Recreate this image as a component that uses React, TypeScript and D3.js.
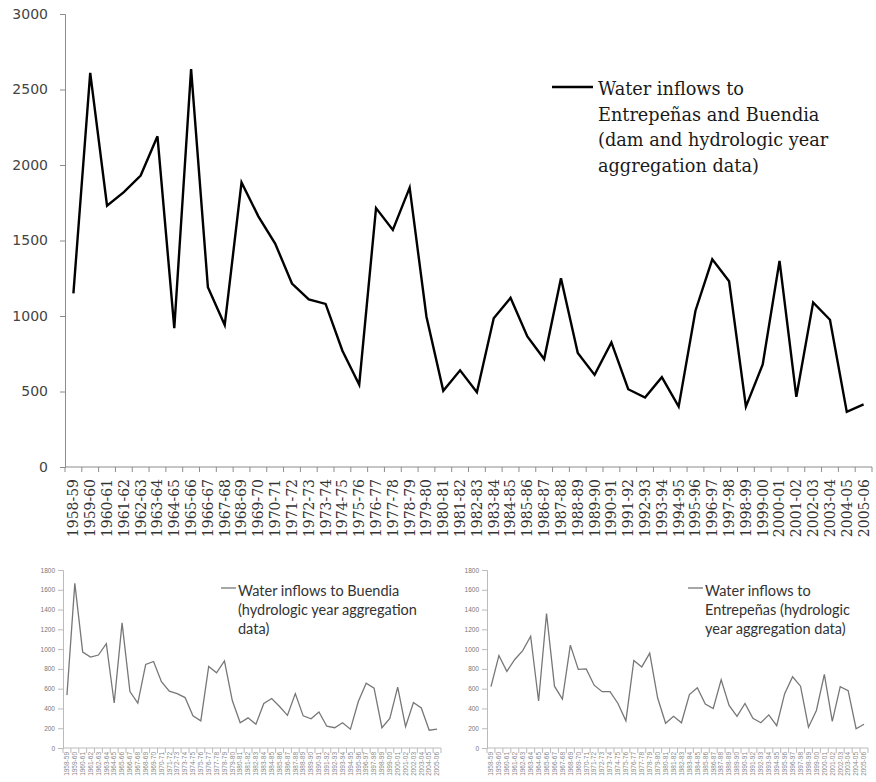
import { useEffect, useRef } from "react";
import * as d3 from "d3";

const YEARS = [
  "1958-59", "1959-60", "1960-61", "1961-62", "1962-63", "1963-64", "1964-65", "1965-66",
  "1966-67", "1967-68", "1968-69", "1969-70", "1970-71", "1971-72", "1972-73", "1973-74",
  "1974-75", "1975-76", "1976-77", "1977-78", "1978-79", "1979-80", "1980-81", "1981-82",
  "1982-83", "1983-84", "1984-85", "1985-86", "1986-87", "1987-88", "1988-89", "1989-90",
  "1990-91", "1991-92", "1992-93", "1993-94", "1994-95", "1995-96", "1996-97", "1997-98",
  "1998-99", "1999-00", "2000-01", "2001-02", "2002-03", "2003-04", "2004-05", "2005-06",
];

const TOTAL = [
  1150, 2610, 1730, 1820, 1930, 2190, 920, 2635, 1190, 940, 1885, 1660, 1480, 1215, 1110, 1080,
  770, 545, 1715, 1570, 1850, 995, 505, 640, 495, 985, 1120, 865, 715, 1250, 755, 610,
  825, 515, 460, 595, 400, 1035, 1375, 1230, 400, 680, 1365, 465, 1090, 975, 365, 415,
];

const BUENDIA = [
  535, 1665, 970, 920, 940, 1055, 455, 1265, 570, 455, 845, 875, 670, 575, 550, 510,
  325, 275, 825, 760, 880, 480, 255, 305, 240, 450, 500, 420, 330, 550, 325, 295,
  365, 220, 205, 255, 190, 470, 655, 605, 205, 300, 615, 215, 460, 405, 180, 190,
];

const ENTREPENAS = [
  620, 935, 775, 895, 985, 1130, 475, 1360, 625, 495, 1040, 795, 800, 635, 570, 570,
  450, 275, 885, 820, 960, 505, 250, 320, 255, 540, 610, 445, 400, 690, 430, 320,
  450, 300, 255, 335, 225, 550, 720, 625, 210, 380, 745, 270, 620, 580, 195, 240,
];

const MAIN_TICKS = [0, 500, 1000, 1500, 2000, 2500, 3000];
const SMALL_TICKS = [0, 200, 400, 600, 800, 1000, 1200, 1400, 1600, 1800];

const MAIN_LEGEND = [
  "Water inflows to",
  "Entrepeñas and Buendia",
  "(dam and hydrologic year",
  "aggregation data)",
];
const BUENDIA_LEGEND = ["Water inflows to Buendia", "(hydrologic year aggregation", "data)"];
const ENTREPENAS_LEGEND = ["Water inflows to", "Entrepeñas (hydrologic", "year aggregation data)"];

const W = 876, H = 782;

interface PanelCfg {
  x0: number; x1: number; y0: number; y1: number;
  max: number; ticks: number[]; values: number[];
  lineColor: string; lineWidth: number;
  axisColor: string;
  tickFont: string; tickSize: number; tickColor: string; tickPad: number;
  catFont: string; catSize: number; catColor: string; catGap: number;
  legend: string[]; legX: number; legY: number; legLine: number; legGap: number;
  legFont: string; legSize: number; legColor: string; legStep: number;
}

function drawPanel(svg: d3.Selection<SVGSVGElement, unknown, null, undefined>, c: PanelCfg) {
  const g = svg.append("g");
  const x = d3.scaleBand<string>().domain(YEARS).range([c.x0, c.x1]);
  const y = d3.scaleLinear().domain([0, c.max]).range([c.y1, c.y0]);

  // y axis
  const ya = g.append("g")
    .attr("transform", `translate(${c.x0},0)`)
    .call(d3.axisLeft(y).tickValues(c.ticks).tickSize(5).tickPadding(c.tickPad).tickFormat(d3.format("d")));
  ya.selectAll("path,line").attr("stroke", c.axisColor);
  ya.selectAll("text")
    .attr("fill", c.tickColor)
    .attr("font-family", c.tickFont)
    .attr("font-size", c.tickSize);

  // x axis: ticks at category boundaries
  g.append("line")
    .attr("x1", c.x0).attr("x2", c.x1)
    .attr("y1", c.y1).attr("y2", c.y1)
    .attr("stroke", c.axisColor);
  const bounds = [...YEARS.map((d) => x(d)!), c.x1];
  g.selectAll("line.xt")
    .data(bounds)
    .join("line")
    .attr("class", "xt")
    .attr("x1", (d) => d).attr("x2", (d) => d)
    .attr("y1", c.y1).attr("y2", c.y1 + 5)
    .attr("stroke", c.axisColor);

  g.selectAll("text.cat")
    .data(YEARS)
    .join("text")
    .attr("class", "cat")
    .attr("transform", (d) => `translate(${x(d)! + x.bandwidth() / 2},${c.y1 + c.catGap}) rotate(-90)`)
    .attr("text-anchor", "end")
    .attr("dy", "0.35em")
    .attr("fill", c.catColor)
    .attr("font-family", c.catFont)
    .attr("font-size", c.catSize)
    .text((d) => d);

  const line = d3.line<number>()
    .x((_, i) => x(YEARS[i])! + x.bandwidth() / 2)
    .y((v) => y(v));
  g.append("path")
    .datum(c.values)
    .attr("d", line)
    .attr("fill", "none")
    .attr("stroke", c.lineColor)
    .attr("stroke-width", c.lineWidth)
    .attr("stroke-linejoin", "miter");

  // legend
  g.append("line")
    .attr("x1", c.legX).attr("x2", c.legX + c.legLine)
    .attr("y1", c.legY).attr("y2", c.legY)
    .attr("stroke", c.lineColor)
    .attr("stroke-width", c.lineWidth);
  g.selectAll("text.leg")
    .data(c.legend)
    .join("text")
    .attr("class", "leg")
    .attr("x", c.legX + c.legLine + c.legGap)
    .attr("y", (_, i) => c.legY + 8 + i * c.legStep)
    .attr("fill", c.legColor)
    .attr("font-family", c.legFont)
    .attr("font-size", c.legSize)
    .text((d) => d);
}

export default function App() {
  const ref = useRef<SVGSVGElement>(null);

  useEffect(() => {
    if (!ref.current) return;
    const svg = d3.select(ref.current);
    svg.selectAll("*").remove();

    drawPanel(svg, {
      x0: 65, x1: 872, y0: 14, y1: 467,
      max: 3000, ticks: MAIN_TICKS, values: TOTAL,
      lineColor: "#000", lineWidth: 2.4, axisColor: "#8c8c8c",
      tickFont: "DejaVu Sans", tickSize: 14, tickColor: "#444", tickPad: 12,
      catFont: "DejaVu Serif", catSize: 14, catColor: "#333", catGap: 12,
      legend: MAIN_LEGEND, legX: 552, legY: 87, legLine: 41, legGap: 5,
      legFont: "'DejaVu Serif', serif", legSize: 17.7, legColor: "#1a1a1a", legStep: 25.5,
    });

    drawPanel(svg, {
      x0: 63, x1: 441, y0: 570, y1: 748,
      max: 1800, ticks: SMALL_TICKS, values: BUENDIA,
      lineColor: "#777", lineWidth: 1.3, axisColor: "#bbb",
      tickFont: "Liberation Sans", tickSize: 6.5, tickColor: "#777", tickPad: 3,
      catFont: "Liberation Sans", catSize: 6.5, catColor: "#888", catGap: 4,
      legend: BUENDIA_LEGEND, legX: 221, legY: 588, legLine: 15, legGap: 2,
      legFont: "Lato", legSize: 14.5, legColor: "#333", legStep: 19,
    });

    drawPanel(svg, {
      x0: 487, x1: 868, y0: 570, y1: 748,
      max: 1800, ticks: SMALL_TICKS, values: ENTREPENAS,
      lineColor: "#777", lineWidth: 1.3, axisColor: "#bbb",
      tickFont: "Liberation Sans", tickSize: 6.5, tickColor: "#777", tickPad: 3,
      catFont: "Liberation Sans", catSize: 6.5, catColor: "#888", catGap: 4,
      legend: ENTREPENAS_LEGEND, legX: 688, legY: 588, legLine: 15, legGap: 2,
      legFont: "Lato", legSize: 14.5, legColor: "#333", legStep: 19,
    });
  }, []);

  return (
    <svg
      ref={ref}
      width={W}
      height={H}
      viewBox={`0 0 ${W} ${H}`}
      style={{ position: "absolute", left: 0, top: 0, background: "#fff" }}
    />
  );
}
